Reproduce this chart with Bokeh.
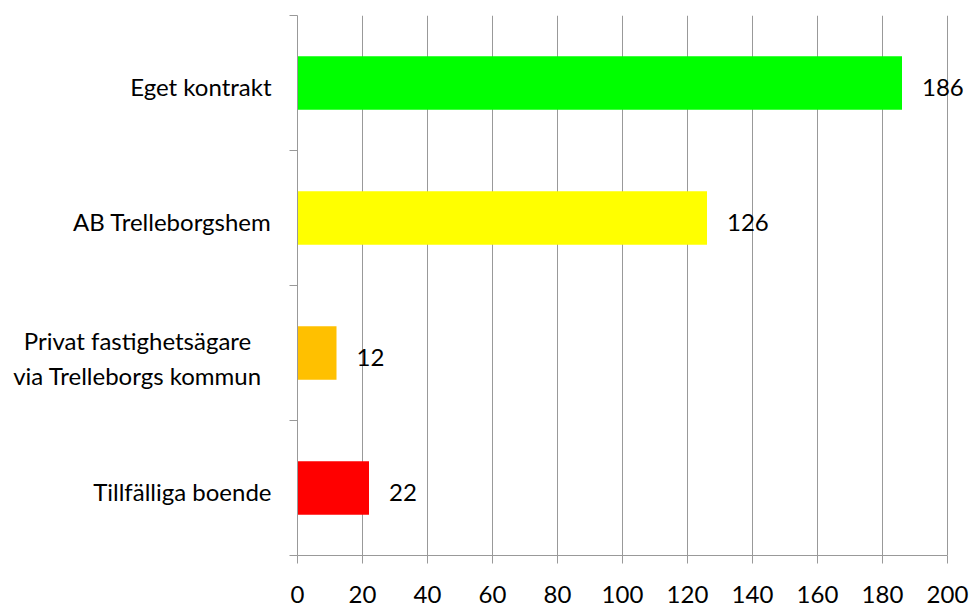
from bokeh.plotting import figure
from bokeh.layouts import row
from bokeh.models import FixedTicker, Range1d, ColumnDataSource
from bokeh.core.properties import value
from bokeh.embed import file_html
from bokeh.resources import INLINE

categories = ["Tillfälliga boende", "Privat fastighetsägare\nvia Trelleborgs kommun", "AB Trelleborgshem", "Eget kontrakt"]
values = [22, 12, 126, 186]
colors = ["#FF0000", "#FFC000", "#FFFF00", "#00FF00"]
x_ticks = list(range(0, 201, 20))

FONT = "Lato"
FS = "24px"
GRAY = "#999999"
positions = [i + 0.5 for i in range(len(categories))]
yr = Range1d(0, len(categories))

# ---- label column (left) ----
LAB_W = 277
lab = figure(width=LAB_W, height=608, output_backend="svg", toolbar_location=None,
             x_range=Range1d(0, LAB_W), y_range=yr, x_axis_location=None, y_axis_location=None,
             min_border_left=0, min_border_right=0, min_border_top=15, min_border_bottom=53)
lab.outline_line_color = None
lab.grid.visible = False
single = [(pos, c) for pos, c in zip(positions, categories) if "\n" not in c]
multi = [(pos, c) for pos, c in zip(positions, categories) if "\n" in c]
lab.text(x=[271] * len(single), y=[s[0] for s in single], text=[s[1] for s in single],
         text_align="right", text_baseline="middle", y_offset=3,
         text_font=value(FONT), text_font_size=FS, text_color="#000000")
lab.text(x=[137] * len(multi), y=[m[0] for m in multi], text=[m[1] for m in multi],
         text_align="center", text_baseline="middle", y_offset=5, text_line_height=1.18,
         text_font=value(FONT), text_font_size=FS, text_color="#000000")

# ---- main chart ----
SCALE = 3.25  # px per unit
MAIN_W = 970 - LAB_W
frame_w = MAIN_W - 20 - 7
p = figure(width=MAIN_W, height=608, output_backend="svg", toolbar_location=None,
           x_range=Range1d(0, frame_w / SCALE), y_range=yr,
           min_border_left=20, min_border_right=7, min_border_top=15, min_border_bottom=53)
p.outline_line_color = None

src = ColumnDataSource(dict(y=positions, v=values, c=colors, t=[str(v) for v in values]))
p.hbar(y="y", right="v", left=0, height=0.395, fill_color="c", line_color=None, source=src)
p.text(x="v", y="y", text="t", x_offset=20, y_offset=4, text_baseline="middle", text_align="left",
       text_font=value(FONT), text_font_size=FS, text_color="#000000", source=src)

# x axis
p.xaxis.ticker = FixedTicker(ticks=x_ticks)
p.xaxis.bounds = (x_ticks[0], x_ticks[-1])
p.xaxis.axis_line_color = GRAY
p.xaxis.major_tick_line_color = GRAY
p.xaxis.major_tick_out = 8
p.xaxis.major_tick_in = 0
p.xaxis.minor_tick_line_color = None
p.xaxis.major_label_standoff = 22
p.xaxis.major_label_text_font = FONT
p.xaxis.major_label_text_font_size = FS
p.xaxis.major_label_text_color = "#000000"

# y axis: ticks at category boundaries
p.yaxis.ticker = FixedTicker(ticks=[], minor_ticks=list(range(len(categories) + 1)))
p.yaxis.axis_line_color = GRAY
p.yaxis.minor_tick_line_color = GRAY
p.yaxis.minor_tick_out = 8
p.yaxis.minor_tick_in = 0
p.yaxis.major_label_standoff = 0
p.yaxis.major_label_text_font_size = "0px"

p.xgrid.ticker = FixedTicker(ticks=x_ticks)
p.xgrid.grid_line_color = GRAY
p.ygrid.grid_line_color = None

layout = row(lab, p)
open("out.html", "w").write(file_html(layout, INLINE))
